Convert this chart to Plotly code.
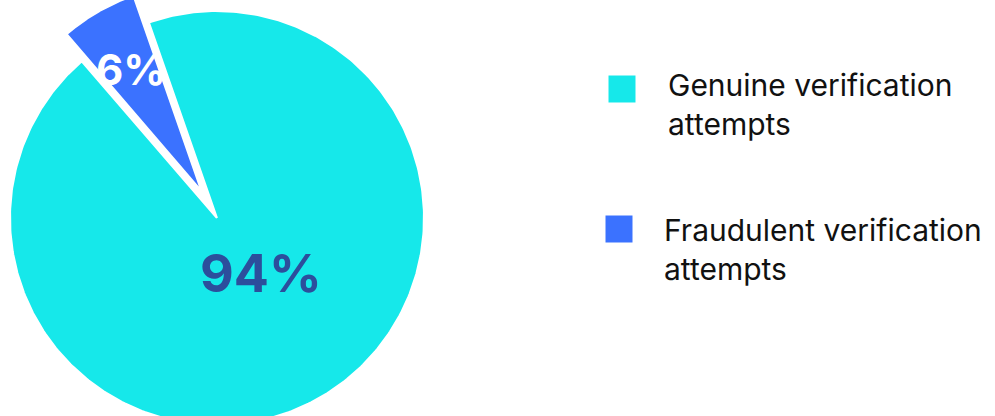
import numpy as np
import plotly.graph_objects as go

# Share of verification attempts
labels = ["Genuine verification<br>attempts", "Fraudulent verification<br>attempts"]
values = [94, 6]
colors = ["#16E8EA", "#3B72FF"]
label_colors = ["#2C4E9C", "#FFFFFF"]
label_sizes = [52, 42]

# Pie geometry in pixel-like axis units (y grows upward)
W, H = 995, 416
cx, cy = 217, H - 218
R = 207
pull = [0, 31]           # outward offset of each slice
start = -19.2            # degrees clockwise from 12 o'clock where slice 1 begins
label_frac = [0.34, 0.68]
label_turn = [-8.5, 0]   # angular nudge of each percentage label

fig = go.Figure()

total = sum(values)
angle = start
for i, (v, c) in enumerate(zip(values, colors)):
    span = 360.0 * v / total
    a0, a1 = angle, angle + span
    mid = np.radians((a0 + a1) / 2)
    ox = cx + pull[i] * np.sin(mid)
    oy = cy + pull[i] * np.cos(mid)
    th = np.radians(np.linspace(a0, a1, 400))
    xs = np.concatenate([[ox], ox + R * np.sin(th), [ox]])
    ys = np.concatenate([[oy], oy + R * np.cos(th), [oy]])
    fig.add_trace(go.Scatter(
        x=xs, y=ys, mode="lines", fill="toself", fillcolor=c,
        line=dict(color="white", width=2), hoverinfo="skip", showlegend=False,
    ))
    la = mid + np.radians(label_turn[i])
    lx = ox + label_frac[i] * R * np.sin(la)
    ly = oy + label_frac[i] * R * np.cos(la)
    fig.add_annotation(
        x=lx, y=ly, text=f"<b>{v}%</b>", showarrow=False,
        font=dict(family="Inter", size=label_sizes[i], color=label_colors[i]),
        xanchor="center", yanchor="middle",
    )
    angle = a1

# Legend: swatches and wrapped labels on the right
sw_x = [622, 619]
sw_y = [H - 89, H - 229]
txt_x = [666, 662]
text_mid = [104, 249]    # vertical centre of each two-line label, px from top
legend_size = 30
fig.add_trace(go.Scatter(
    x=sw_x, y=sw_y, mode="markers",
    marker=dict(symbol="square", size=27, color=colors, line=dict(width=0)),
    hoverinfo="skip", showlegend=False,
))
for i, lab in enumerate(labels):
    fig.add_annotation(
        x=txt_x[i], y=H - text_mid[i], text=lab,
        showarrow=False, xanchor="left", yanchor="middle", align="left",
        font=dict(family="Inter", size=legend_size, color="#111111"),
    )

fig.update_xaxes(range=[0, W], visible=False, fixedrange=True)
fig.update_yaxes(range=[0, H], visible=False, fixedrange=True)
fig.update_layout(
    width=W, height=H, margin=dict(l=0, r=0, t=0, b=0),
    paper_bgcolor="white", plot_bgcolor="white", showlegend=False,
)

fig.write_html("out.html")
